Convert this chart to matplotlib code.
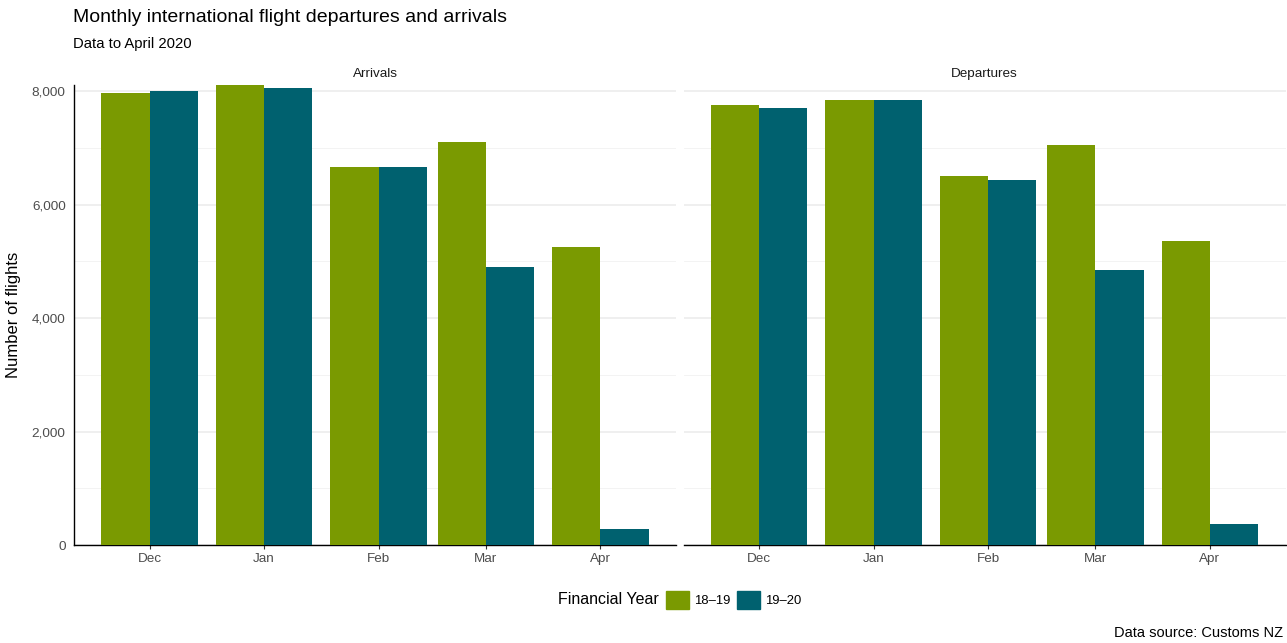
import numpy as np
import matplotlib
matplotlib.use("Agg")
import matplotlib.pyplot as plt
import matplotlib.dates as mdates
from matplotlib.patches import Patch
from matplotlib.ticker import MultipleLocator, FuncFormatter

plt.rcParams["font.family"] = ["Liberation Sans", "DejaVu Sans"]

# data
months = ["2019-12-01", "2020-01-01", "2020-02-01", "2020-03-01", "2020-04-01"]
panels = ["Arrivals", "Departures"]
years = ["18–19", "19–20"]
arrivals_1819 = [7970, 8110, 6665, 7105, 5255]
arrivals_1920 = [8000, 8055, 6665, 4900, 280]
departures_1819 = [7755, 7840, 6505, 7050, 5360]
departures_1920 = [7705, 7840, 6435, 4850, 370]

colors = ["#7A9A01", "#00616F"]

W, H = 1287, 643
fig = plt.figure(figsize=(W / 100, H / 100), dpi=100)

x = mdates.date2num(np.array(months, dtype="datetime64[D]"))
bar_w = 0.9 * 29 / 2  # days, each dodged bar
lo, hi = x[0] - bar_w, x[-1] + bar_w
pad = 0.05 * (hi - lo)
ymax = max(arrivals_1819 + arrivals_1920 + departures_1819 + departures_1920)

panel_lefts = [74, 683.5]
panel_w, panel_top, panel_bot = 602, 85, 545
series = [(arrivals_1819, arrivals_1920), (departures_1819, departures_1920)]

for i, (name, (s1, s2)) in enumerate(zip(panels, series)):
    ax = fig.add_axes([panel_lefts[i] / W, (H - panel_bot) / H,
                       panel_w / W, (panel_bot - panel_top) / H])
    ax.bar(x - bar_w / 2, s1, width=bar_w, color=colors[0], zorder=3)
    ax.bar(x + bar_w / 2, s2, width=bar_w, color=colors[1], zorder=3)
    ax.set_xlim(lo - pad, hi + pad)
    ax.set_ylim(0, ymax)

    ax.set_xticks(x)
    ax.xaxis.set_major_formatter(mdates.DateFormatter("%b"))
    ax.yaxis.set_major_locator(MultipleLocator(2000))
    ax.yaxis.set_minor_locator(MultipleLocator(1000))
    ax.yaxis.set_major_formatter(FuncFormatter(lambda v, p: f"{v:,.0f}"))

    ax.grid(axis="y", which="major", color="#EBEBEB", lw=1.1, zorder=0)
    ax.grid(axis="y", which="minor", color="#F1F1F1", lw=0.6, zorder=0)
    ax.set_axisbelow(True)

    for side in ["top", "right", "left"]:
        ax.spines[side].set_visible(False)
    ax.spines["bottom"].set_color("#000000")
    ax.spines["bottom"].set_linewidth(1.0)
    if i == 0:
        ax.spines["left"].set_visible(True)
        ax.spines["left"].set_color("#000000")
        ax.spines["left"].set_linewidth(1.0)

    ax.tick_params(axis="x", length=3, width=0.8, color="#333333",
                   labelsize=9.7, labelcolor="#4D4D4D", pad=3)
    ax.tick_params(axis="y", which="both", length=0, labelsize=9.7,
                   labelcolor="#4D4D4D", pad=6)
    if i == 1:
        ax.tick_params(axis="y", labelleft=False)

    ax.text(0.5, 1 + (panel_top - 74) / (panel_bot - panel_top), name,
            transform=ax.transAxes, ha="center", va="center",
            fontsize=9.7, color="#1A1A1A")

fig.text(73 / W, 1 - 18 / H, "Monthly international flight departures and arrivals",
         fontsize=14, va="center", ha="left")
fig.text(73 / W, 1 - 44 / H, "Data to April 2020", fontsize=10.7, va="center", ha="left")
fig.text(14 / W, 1 - 315 / H, "Number of flights", rotation=90, fontsize=12,
         va="center", ha="center")
fig.text(1283 / W, 1 - 633 / H, "Data source: Customs NZ", fontsize=10.5,
         va="center", ha="right")

fig.text(659 / W, 1 - 600 / H, "Financial Year", fontsize=11.5, va="center", ha="right")
handles = [Patch(color=c) for c in colors]
fig.legend(handles, years, loc="center left", bbox_to_anchor=(666 / W, 1 - 600 / H),
           ncol=2, frameon=False, fontsize=9.4, handlelength=1.77, handleheight=1.77,
           handletextpad=0.4, columnspacing=0.45, borderpad=0, borderaxespad=0)

fig.savefig("out.png", dpi=100)
